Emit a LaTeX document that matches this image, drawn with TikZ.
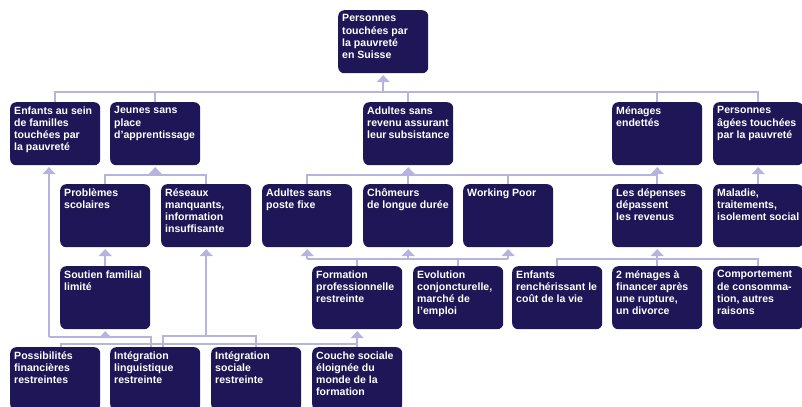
\documentclass[tikz,border=0pt]{standalone}
\usepackage{fontspec}
\setmainfont{Liberation Sans}
\usetikzlibrary{arrows.meta}
\definecolor{navy}{RGB}{30,22,86}
\definecolor{lav}{RGB}{182,180,222}

\begin{document}
\begin{tikzpicture}[x=0.3mm, y=-0.3mm,
    box/.style={rectangle, rounded corners=1.8mm, fill=navy, text=white, anchor=north west,
      inner xsep=1.2mm, inner ysep=1.3mm, font=\bfseries\fontsize{9}{10.4}\selectfont,
      execute at begin node={\begin{minipage}[t][16.3mm][t]{24.6mm}\raggedright\hfuzz=20pt\hyphenpenalty=10000},
      execute at end node={\end{minipage}}},
    link/.style={draw=lav, line width=0.45mm},
    arr/.style={link, -{Triangle[width=3.9mm,length=2.1mm]}, shorten >=0.5mm}]
  \useasboundingbox (0,0) rectangle (802,406);

  \node[box] (top) at (338,10) {Personnes\\touchées par\\la pauvreté\\en Suisse};

  \node[box] (enfants) at (10,102) {Enfants au sein\\de familles\\touchées par\\la pauvreté};
  \node[box] (jeunes) at (110,102) {Jeunes sans\\place\\d'apprentissage};
  \node[box] (adultes) at (363,102) {Adultes sans\\revenu assurant\\leur~subsistance};
  \node[box] (menages) at (612,102) {Ménages\\endettés};
  \node[box] (ages) at (713,102) {Personnes\\âgées~touchées\\par la pauvreté};

  \node[box] (prob) at (60,184) {Problèmes\\scolaires};
  \node[box] (reseaux) at (161,184) {Réseaux\\manquants,\\information\\insuffisante};
  \node[box] (poste) at (262,184) {Adultes sans\\poste fixe};
  \node[box] (chomeurs) at (363,184) {Chômeurs\\de~longue~durée};
  \node[box] (working) at (463,184) {Working Poor};
  \node[box] (depenses) at (612,184) {Les dépenses\\dépassent\\les revenus};
  \node[box] (maladie) at (713,184) {Maladie,\\traitements,\\isolement~social};

  \node[box] (soutien) at (60,266) {Soutien~familial\\limité};
  \node[box] (formation) at (312,266) {Formation\\professionnelle\\restreinte};
  \node[box] (evolution) at (413,266) {Evolution\\conjoncturelle,\\marché de\\l'emploi};
  \node[box] (rencher) at (512,266) {Enfants\\renchérissant~le\\coût de la vie};
  \node[box] (deuxmen) at (612,266) {2 ménages à\\financer après\\une rupture,\\un divorce};
  \node[box] (comport) at (713,266) {Comportement\\de consomma-\\tion, autres\\raisons};

  \node[box] (possib) at (10,347) {Possibilités\\financières\\restreintes};
  \node[box] (lingu) at (110,347) {Intégration\\linguistique\\restreinte};
  \node[box] (sociale) at (211,347) {Intégration\\sociale\\restreinte};
  \node[box] (couche) at (312,347) {Couche~sociale\\éloignée du\\monde de la\\formation};

  \coordinate (lvl1) at (0,92);
  \coordinate (lvl2) at (0,175);
  \coordinate (lvl3) at (0,259);

  \draw[link] (enfants.north) |- (lvl1 -| ages.north) -- (ages.north);
  \foreach \n in {jeunes,adultes,menages}
      \draw[link] (\n.north) -- (\n.north |- lvl1);
  \draw[arr] (top.south |- lvl1) -- (top.south);

  \draw[link] (prob.north) |- (lvl2 -| reseaux.north) -- (reseaux.north);
  \draw[arr] (jeunes.south |- lvl2) -- (jeunes.south);
  \draw[link] (poste.north) |- (lvl2 -| depenses.north) -- (depenses.north);
  \foreach \n in {chomeurs,working}
      \draw[link] (\n.north) -- (\n.north |- lvl2);
  \draw[arr] (adultes.south |- lvl2) -- (adultes.south);
  \draw[arr] (menages.south |- lvl2) -- (menages.south);
  \draw[arr] (maladie.north) -- (ages.south);

  \draw[arr] (soutien.north) -- (prob.south);
  \draw[link] (poste.south |- lvl3) -- (working.south |- lvl3);
  \foreach \n in {formation,evolution}
      \draw[link] (\n.north) -- (\n.north |- lvl3);
  \foreach \n in {poste,chomeurs,working}
      \draw[arr] (\n.south |- lvl3) -- (\n.south);
  \draw[link] (rencher.north) |- (lvl3 -| comport.north) -- (comport.north);
  \draw[arr] (deuxmen.north) -- (depenses.south);

  \coordinate (j1) at (49,337);
  \coordinate (j2) at (151,337);
  \coordinate (j3) at (163,336);
  \coordinate (j4) at (61,344);
  \draw[link] (j1) -- (j2) -- (j2 |- lingu.north);
  \draw[arr] (j1) -- (j1 |- enfants.south);
  \draw[arr] (soutien.south |- j1) -- (soutien.south);
  \draw[link] (j3 |- lingu.north) -- (j3) -| (sociale.north);
  \draw[arr] (reseaux.south |- j3) -- (reseaux.south);
  \draw[link] (j4 |- possib.north) -- (j4) -- (j4 -| formation.south);
  \draw[arr] (couche.north) -- (formation.south);
\end{tikzpicture}
\end{document}
